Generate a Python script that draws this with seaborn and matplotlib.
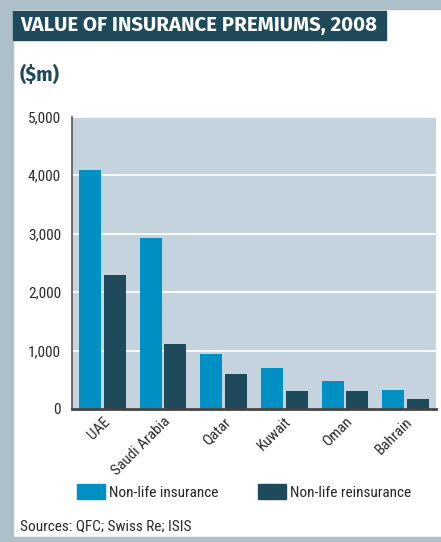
import numpy as np
import pandas as pd
import matplotlib
matplotlib.use("Agg")
import matplotlib.pyplot as plt
import seaborn as sns
from matplotlib.patches import Rectangle, Patch

# datos ($m)
paises = ["UAE", "Saudi Arabia", "Qatar", "Kuwait", "Oman", "Bahrain"]
seguros = [4085, 2925, 940, 700, 480, 325]
reaseguros = [2290, 1110, 600, 308, 308, 170]
series = ["Non-life insurance", "Non-life reinsurance"]
yticks = [0, 1000, 2000, 3000, 4000, 5000]

azul, oscuro, fondo, marco = "#0090c4", "#1f4a5c", "#c5d3de", "#adbfca"
texto = "#2b2b2b"

df = pd.DataFrame({
    "pais": paises * 2,
    "valor": seguros + reaseguros,
    "serie": [series[0]] * len(paises) + [series[1]] * len(paises),
})

sns.set_style("white")
plt.rcParams["font.family"] = ["Roboto Condensed", "DejaVu Sans"]
titulo = ["Fira Sans", "DejaVu Sans"]

W, H = 441, 542
fig = plt.figure(figsize=(W / 100, H / 100), dpi=100)

# marco exterior
fig.patches.append(Rectangle((0, 0), 13 / W, 1, transform=fig.transFigure, color=marco, zorder=0))
fig.patches.append(Rectangle((0, 1 - 9 / H), 1, 9 / H, transform=fig.transFigure, color=marco, zorder=0))
fig.patches.append(Rectangle((0, 0), 1, 5 / H, transform=fig.transFigure, color=marco, zorder=0))
# caja del titulo
fig.patches.append(Rectangle((13 / W, 1 - 40 / H), (386 - 13) / W, 29 / H,
                             transform=fig.transFigure, color=oscuro, zorder=1))
fig.text(20 / W, 1 - 25.5 / H, "VALUE OF INSURANCE PREMIUMS, 2008", color="white",
         fontsize=14.7, fontweight="bold", va="center", ha="left", family=titulo)
fig.text(20 / W, 1 - 75 / H, "($m)", color=oscuro, fontsize=14, fontweight="bold",
         va="center", ha="left", family=titulo)

ax = fig.add_axes([72 / W, (H - 409) / H, 364 / W, 292.5 / H])
ax.set_facecolor(fondo)
sns.barplot(data=df, x="pais", y="valor", hue="serie", palette=[azul, oscuro],
            width=0.82, gap=0.12, saturation=1, linewidth=0, ax=ax, legend=False, zorder=3)
ax.set_ylim(0, 5000)
ax.set_xlim(-0.5, 5.5)
ax.set_yticks(yticks)
ax.set_yticklabels([f"{v:,}" for v in yticks], fontsize=11, color=texto)
ax.grid(axis="y", color="white", lw=1.3, zorder=1)
ax.set_axisbelow(True)
ax.set_xlabel("")
ax.set_ylabel("")
ax.tick_params(axis="y", length=0, pad=8)
ax.tick_params(axis="x", length=0, pad=4)
plt.setp(ax.get_xticklabels(), rotation=45, ha="right", rotation_mode="anchor",
         fontsize=11, color=texto)
for s in ["top", "right"]:
    ax.spines[s].set_visible(False)
for s in ["left", "bottom"]:
    ax.spines[s].set_zorder(5)
ax.spines["left"].set_color("#555555")
ax.spines["left"].set_linewidth(1.2)
ax.spines["bottom"].set_color("#444444")
ax.spines["bottom"].set_linewidth(2)

handles = [Patch(color=azul, label=series[0]), Patch(color=oscuro, label=series[1])]
fig.legend(handles=handles, loc="center left", bbox_to_anchor=(77 / W, 1 - 492 / H),
           ncol=2, frameon=False, fontsize=11, handlelength=1.8, handleheight=1.1,
           columnspacing=2.6, handletextpad=0.3, borderaxespad=0, borderpad=0)
fig.text(20 / W, 1 - 526 / H, "Sources: QFC; Swiss Re; ISIS", fontsize=11,
         color=texto, va="center", ha="left")

fig.savefig("out.png", dpi=100)
